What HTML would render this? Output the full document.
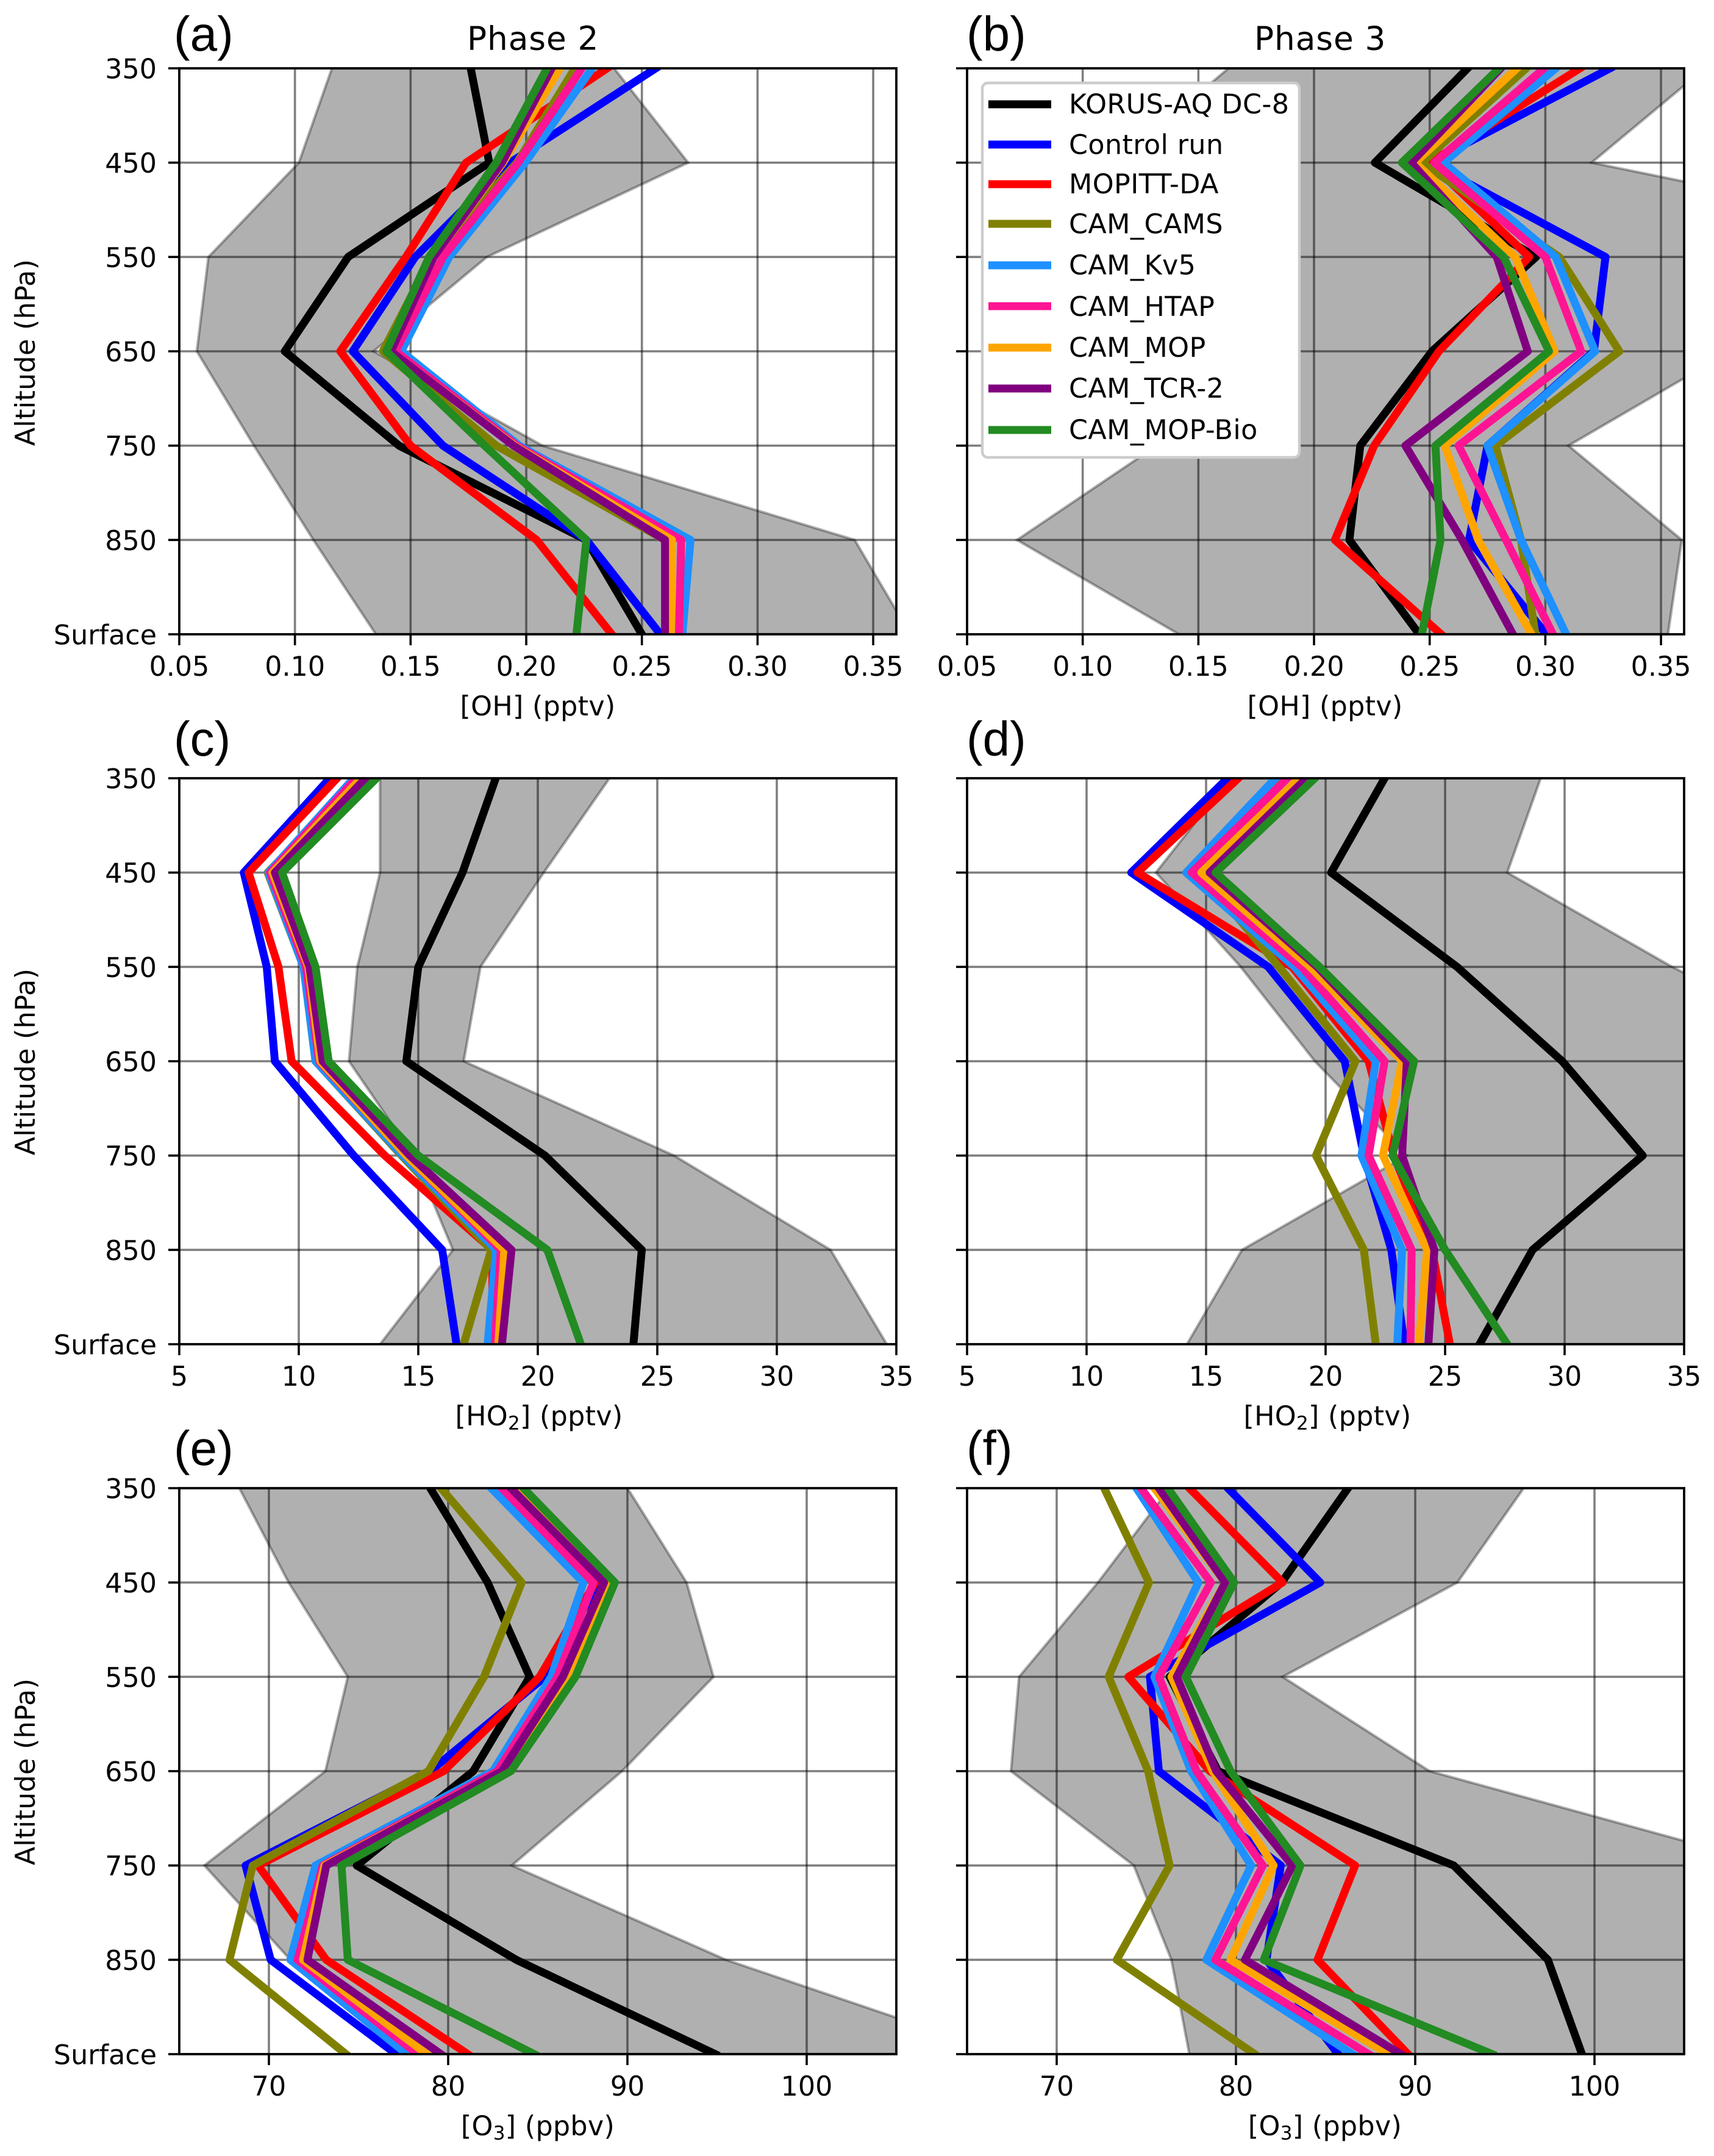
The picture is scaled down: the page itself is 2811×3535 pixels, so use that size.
<!DOCTYPE html>
<html lang="en">
<head>
<meta charset="utf-8">
<title>Vertical profiles of OH, HO2 and O3</title>
<style>
html,body{margin:0;padding:0;background:#fff;}
svg{display:block;}
text{font-family:"DejaVu Sans",sans-serif;fill:#000;}
.tick{font-size:44.4px;}
.lab{font-size:44.4px;letter-spacing:.3px;}
.ttl{font-size:53.3px;letter-spacing:.9px;}
.pan{font-family:"Liberation Sans",sans-serif;font-size:80px;}
.leg{font-size:44.4px;letter-spacing:.4px;}
</style>
</head>
<body>
<svg id="fig" xmlns="http://www.w3.org/2000/svg" width="2811" height="3535" viewBox="0 0 2811 3535">
  <rect x="0" y="0" width="2811" height="3535" fill="#ffffff"/>
  <g id="panels"></g>

  <text class="pan" x="285" y="83">(a)</text>
  <text class="pan" x="1585" y="83">(b)</text>
  <text class="pan" x="285" y="1239">(c)</text>
  <text class="pan" x="1585" y="1239">(d)</text>
  <text class="pan" x="285" y="2402">(e)</text>
  <text class="pan" x="1585" y="2402">(f)</text>

  <text class="ttl" x="766" y="81.5">Phase 2</text>
  <text class="ttl" x="2057" y="81.5">Phase 3</text>

  <text class="lab" transform="translate(57,578) rotate(-90)" text-anchor="middle">Altitude (hPa)</text>
  <text class="lab" transform="translate(57,1741) rotate(-90)" text-anchor="middle">Altitude (hPa)</text>
  <text class="lab" transform="translate(57,2905) rotate(-90)" text-anchor="middle">Altitude (hPa)</text>

  <text class="lab" x="882" y="1173" text-anchor="middle">[OH] (pptv)</text>
  <text class="lab" x="2173" y="1173" text-anchor="middle">[OH] (pptv)</text>
  <text class="lab" x="884" y="2337" text-anchor="middle">[HO<tspan dy="7" font-size="31">2</tspan><tspan dy="-7">] (pptv)</tspan></text>
  <text class="lab" x="2177" y="2337" text-anchor="middle">[HO<tspan dy="7" font-size="31">2</tspan><tspan dy="-7">] (pptv)</tspan></text>
  <text class="lab" x="882" y="3501" text-anchor="middle">[O<tspan dy="7" font-size="31">3</tspan><tspan dy="-7">] (ppbv)</tspan></text>
  <text class="lab" x="2173" y="3501" text-anchor="middle">[O<tspan dy="7" font-size="31">3</tspan><tspan dy="-7">] (ppbv)</tspan></text>

  <g id="legend">
    <rect x="1611" y="136" width="520" height="614" rx="9" ry="9" fill="#ffffff" stroke="#cccccc" stroke-width="4.4"/>
    <g><line x1="1621" x2="1724" y1="171" y2="171" stroke="#000000" stroke-width="13"/><text class="leg" x="1753" y="186">KORUS-AQ DC-8</text></g>
    <g><line x1="1621" x2="1724" y1="237" y2="237" stroke="#0000ff" stroke-width="13"/><text class="leg" x="1753" y="252.5">Control run</text></g>
    <g><line x1="1621" x2="1724" y1="302" y2="302" stroke="#ff0000" stroke-width="13"/><text class="leg" x="1753" y="317">MOPITT-DA</text></g>
    <g><line x1="1621" x2="1724" y1="367" y2="367" stroke="#808000" stroke-width="13"/><text class="leg" x="1753" y="382.5">CAM_CAMS</text></g>
    <g><line x1="1621" x2="1724" y1="435" y2="435" stroke="#1e90ff" stroke-width="13"/><text class="leg" x="1753" y="450">CAM_Kv5</text></g>
    <g><line x1="1621" x2="1724" y1="502" y2="502" stroke="#ff1493" stroke-width="13"/><text class="leg" x="1753" y="518">CAM_HTAP</text></g>
    <g><line x1="1621" x2="1724" y1="570" y2="570" stroke="#ffa500" stroke-width="13"/><text class="leg" x="1753" y="585">CAM_MOP</text></g>
    <g><line x1="1621" x2="1724" y1="637" y2="637" stroke="#800080" stroke-width="13"/><text class="leg" x="1753" y="652">CAM_TCR-2</text></g>
    <g><line x1="1621" x2="1724" y1="705" y2="705" stroke="#228b22" stroke-width="13"/><text class="leg" x="1753" y="720">CAM_MOP-Bio</text></g>
  </g>
</svg>

<script>
// Altitude categories, top of axis to bottom of axis
const levels = ['350', '450', '550', '650', '750', '850', 'Surface'];

// Series identity, in drawing order
const seriesKeys = ['korus', 'control', 'mopitt', 'cams', 'kv5', 'htap', 'mop', 'tcr2', 'mopbio'];
const seriesColors = ['#000000', '#0000ff', '#ff0000', '#808000', '#1e90ff', '#ff1493', '#ffa500', '#800080', '#228b22'];

// Tick values and labels
const ohTicks = [0.05, 0.10, 0.15, 0.20, 0.25, 0.30, 0.35];
const ohTickLabels = ['0.05', '0.10', '0.15', '0.20', '0.25', '0.30', '0.35'];
const ho2Ticks = [5, 10, 15, 20, 25, 30, 35];
const ho2TickLabels = ['5', '10', '15', '20', '25', '30', '35'];
const o3Ticks = [70, 80, 90, 100];
const o3TickLabels = ['70', '80', '90', '100'];

// Axis limits
const ohLimits = [0.05, 0.36];
const ho2Limits = [5, 35];
const o3Limits = [65, 105];

// Panel (a) OH, Phase 2
const aShadeLow = [0.116, 0.1017, 0.0626, 0.0576, 0.0823, 0.108, 0.135];
const aShadeHigh = [0.238, 0.270, 0.183, 0.134, 0.207, 0.342, 0.366];
const aKorus = [0.176, 0.184, 0.123, 0.0956, 0.145, 0.226, 0.250];
const aControl = [0.256, 0.193, 0.152, 0.125, 0.164, 0.226, 0.258];
const aMopitt = [0.235, 0.174, 0.148, 0.1196, 0.150, 0.2045, 0.237];
const aCams = [0.221, 0.196, 0.159, 0.138, 0.187, 0.260, 0.2625];
const aKv5 = [0.2285, 0.1995, 0.1667, 0.146, 0.197, 0.271, 0.2675];
const aHtap = [0.224, 0.1965, 0.164, 0.1435, 0.196, 0.267, 0.266];
const aMop = [0.2146, 0.190, 0.160, 0.1415, 0.195, 0.263, 0.2625];
const aTcr2 = [0.211, 0.1895, 0.160, 0.1415, 0.1945, 0.260, 0.260];
const aMopBio = [0.209, 0.187, 0.158, 0.1395, 0.182, 0.226, 0.2217];

// Panel (b) OH, Phase 3
const bShadeLow = [0.163, 0.115, 0.100, 0.120, 0.132, 0.0716, 0.1416];
const bShadeHigh = [0.369, 0.320, 0.520, 0.380, 0.310, 0.359, 0.353];
const bKorus = [0.2664, 0.2263, 0.296, 0.251, 0.220, 0.2153, 0.2455];
const bControl = [0.328, 0.250, 0.326, 0.321, 0.275, 0.267, 0.3005];
const bMopitt = [0.315, 0.250, 0.293, 0.254, 0.226, 0.209, 0.255];
const bCams = [0.2917, 0.2466, 0.306, 0.332, 0.2785, 0.2895, 0.2957];
const bKv5 = [0.3045, 0.256, 0.3045, 0.3215, 0.275, 0.2895, 0.309];
const bHtap = [0.2995, 0.252, 0.300, 0.3155, 0.2625, 0.283, 0.3033];
const bMop = [0.2877, 0.2437, 0.287, 0.304, 0.2565, 0.271, 0.294];
const bTcr2 = [0.2807, 0.242, 0.279, 0.2924, 0.2395, 0.264, 0.286];
const bMopBio = [0.280, 0.238, 0.282, 0.3016, 0.2525, 0.2547, 0.2466];

// Panel (c) HO2, Phase 2
const cShadeLow = [13.4, 13.4, 12.45, 12.1, 14.8, 16.45, 13.4];
const cShadeHigh = [23.0, 20.25, 17.6, 16.9, 25.7, 32.25, 34.6];
const cKorus = [18.24, 16.85, 15.0, 14.5, 20.3, 24.35, 24.0];
const cControl = [11.3, 7.7, 8.66, 9.0, 12.3, 16.0, 16.6];
const cMopitt = [11.6, 7.9, 9.15, 9.7, 13.6, 18.1, 18.1];
const cCams = [12.5, 8.7, 10.2, 10.7, 14.3, 18.05, 16.9];
const cKv5 = [12.3, 8.73, 10.2, 10.7, 14.35, 18.25, 17.9];
const cHtap = [12.4, 8.8, 10.3, 10.85, 14.5, 18.45, 18.2];
const cMop = [12.6, 8.9, 10.4, 10.9, 14.5, 18.6, 18.35];
const cTcr2 = [12.8, 9.0, 10.45, 11.0, 14.65, 18.9, 18.5];
const cMopBio = [13.25, 9.3, 10.7, 11.25, 15.0, 20.4, 21.8];

// Panel (d) HO2, Phase 3
const dShadeLow = [16.0, 12.9, 16.45, 19.55, 23.4, 16.5, 14.2];
const dShadeHigh = [29.0, 27.6, 34.5, 42.5, 42.5, 42.5, 42.5];
const dKorus = [22.47, 20.23, 25.5, 29.9, 33.27, 28.66, 26.44];
const dControl = [15.9, 11.87, 17.6, 20.8, 21.6, 22.75, 23.3];
const dMopitt = [16.35, 12.13, 18.6, 21.8, 22.85, 24.45, 25.2];
const dCams = [18.3, 14.75, 18.05, 21.25, 19.6, 21.6, 22.1];
const dKv5 = [17.9, 14.17, 18.7, 22.1, 21.5, 23.2, 23.0];
const dHtap = [18.4, 14.4, 19.0, 22.47, 21.8, 23.6, 23.55];
const dMop = [18.9, 14.8, 19.35, 23.2, 22.4, 24.25, 23.9];
const dTcr2 = [19.2, 15.15, 19.65, 23.4, 23.2, 24.55, 24.3];
const dMopBio = [19.55, 15.4, 19.75, 23.7, 22.8, 25.0, 27.6];

// Panel (e) O3, Phase 2
const eShadeLow = [68.35, 71.1, 74.4, 73.15, 66.4, 71.2, 78.3];
const eShadeHigh = [90.0, 93.3, 94.8, 89.7, 83.55, 95.5, 111.0];
const eKorus = [79.0, 82.2, 84.55, 81.4, 74.9, 83.8, 94.9];
const eControl = [83.3, 88.4, 85.4, 79.0, 68.7, 70.1, 77.1];
const eMopitt = [83.0, 88.2, 85.1, 79.75, 69.4, 73.2, 81.1];
const eCams = [79.6, 84.1, 82.0, 78.9, 69.1, 67.8, 74.3];
const eKv5 = [82.4, 87.55, 85.75, 82.5, 72.6, 71.2, 77.7];
const eHtap = [83.0, 88.1, 86.1, 82.75, 73.0, 71.6, 78.3];
const eMop = [83.65, 88.95, 86.6, 83.0, 73.1, 71.9, 78.8];
const eTcr2 = [83.5, 88.7, 86.4, 83.0, 73.2, 72.15, 79.6];
const eMopBio = [84.2, 89.3, 87.1, 83.5, 74.05, 74.4, 84.8];

// Panel (f) O3, Phase 3
const fShadeLow = [76.3, 72.3, 67.9, 67.45, 74.3, 76.4, 77.4];
const fShadeHigh = [96.05, 92.35, 82.6, 90.8, 110.0, 112.0, 112.0];
const fKorus = [86.25, 82.55, 76.3, 79.0, 92.15, 97.4, 99.3];
const fControl = [79.55, 84.7, 75.2, 75.7, 82.5, 81.7, 85.7];
const fMopitt = [77.4, 82.6, 74.0, 78.55, 86.65, 84.55, 89.6];
const fCams = [72.65, 75.15, 72.9, 75.1, 76.3, 73.35, 81.05];
const fKv5 = [74.45, 77.9, 75.45, 77.5, 80.85, 78.35, 86.5];
const fHtap = [74.7, 78.6, 75.7, 77.8, 81.5, 78.85, 87.4];
const fMop = [75.45, 79.4, 76.4, 78.7, 82.1, 79.7, 88.5];
const fTcr2 = [75.7, 79.4, 76.7, 78.9, 83.15, 80.5, 89.2];
const fMopBio = [76.2, 79.9, 77.2, 79.7, 83.6, 81.55, 94.3];

const SVG_NS = 'http://www.w3.org/2000/svg';
const AXES_W = 1176;
const AXES_H = 928;

const panelDefs = [
  { id: 'a', left: 294, top: 112, limits: ohLimits, ticks: ohTicks, tickLabels: ohTickLabels, yLabels: true, low: aShadeLow, high: aShadeHigh,
    lines: [aKorus, aControl, aMopitt, aCams, aKv5, aHtap, aMop, aTcr2, aMopBio] },
  { id: 'b', left: 1586, top: 112, limits: ohLimits, ticks: ohTicks, tickLabels: ohTickLabels, yLabels: false, low: bShadeLow, high: bShadeHigh,
    lines: [bKorus, bControl, bMopitt, bCams, bKv5, bHtap, bMop, bTcr2, bMopBio] },
  { id: 'c', left: 294, top: 1276, limits: ho2Limits, ticks: ho2Ticks, tickLabels: ho2TickLabels, yLabels: true, low: cShadeLow, high: cShadeHigh,
    lines: [cKorus, cControl, cMopitt, cCams, cKv5, cHtap, cMop, cTcr2, cMopBio] },
  { id: 'd', left: 1586, top: 1276, limits: ho2Limits, ticks: ho2Ticks, tickLabels: ho2TickLabels, yLabels: false, low: dShadeLow, high: dShadeHigh,
    lines: [dKorus, dControl, dMopitt, dCams, dKv5, dHtap, dMop, dTcr2, dMopBio] },
  { id: 'e', left: 294, top: 2440, limits: o3Limits, ticks: o3Ticks, tickLabels: o3TickLabels, yLabels: true, low: eShadeLow, high: eShadeHigh,
    lines: [eKorus, eControl, eMopitt, eCams, eKv5, eHtap, eMop, eTcr2, eMopBio] },
  { id: 'f', left: 1586, top: 2440, limits: o3Limits, ticks: o3Ticks, tickLabels: o3TickLabels, yLabels: false, low: fShadeLow, high: fShadeHigh,
    lines: [fKorus, fControl, fMopitt, fCams, fKv5, fHtap, fMop, fTcr2, fMopBio] }
];

function make(tag, attrs, parent) {
  const node = document.createElementNS(SVG_NS, tag);
  for (const key in attrs) node.setAttribute(key, attrs[key]);
  parent.appendChild(node);
  return node;
}

function xAxis(panel, value) {
  const lo = panel.limits[0];
  const hi = panel.limits[1];
  return panel.left + (value - lo) / (hi - lo) * AXES_W;
}

function yAxis(panel, levelIndex) {
  return panel.top + levelIndex / (levels.length - 1) * AXES_H;
}

function profilePoints(panel, values) {
  return values.map(function (v, i) {
    return xAxis(panel, v).toFixed(2) + ',' + yAxis(panel, i).toFixed(2);
  });
}

function drawPanel(panel) {
  const root = document.getElementById('panels');
  const right = panel.left + AXES_W;
  const bottom = panel.top + AXES_H;

  const group = make('g', {}, root);
  
  

  const clip = make('clipPath', { id: 'clip-' + panel.id }, group);
  make('rect', { x: panel.left, y: panel.top, width: AXES_W, height: AXES_H }, clip);

  const plot = make('g', { 'clip-path': 'url(#clip-' + panel.id + ')' }, group);
  
  

  // Shaded observed range
  const shadePts = profilePoints(panel, panel.low).concat(profilePoints(panel, panel.high).reverse());
  const shadeFill = make('polygon', { points: shadePts.join(' '), fill: '#000000', 'fill-opacity': 0.31 }, plot);
  
  
  const shadeEdge = make('polygon', { points: shadePts.join(' '), fill: 'none', stroke: '#000000', 'stroke-opacity': 0.31, 'stroke-width': 4.4, 'stroke-linejoin': 'miter' }, plot);
  
  

  // Grid
  panel.ticks.forEach(function (t, i) {
    const x = xAxis(panel, t);
    const g = make('line', { x1: x, x2: x, y1: panel.top, y2: bottom, stroke: '#000000', 'stroke-opacity': 0.5, 'stroke-width': 3.6 }, plot);
    
    
  });
  levels.forEach(function (lab, i) {
    const y = yAxis(panel, i);
    const g = make('line', { x1: panel.left, x2: right, y1: y, y2: y, stroke: '#000000', 'stroke-opacity': 0.5, 'stroke-width': 3.6 }, plot);
    
    
  });

  // Series
  panel.lines.forEach(function (values, s) {
    const line = make('polyline', {
      points: profilePoints(panel, values).join(' '),
      fill: 'none',
      stroke: seriesColors[s],
      'stroke-width': 13,
      'stroke-linejoin': 'round',
      'stroke-linecap': 'square'
    }, plot);
    
    
  });

  // Spines
  const spine = make('rect', { x: panel.left, y: panel.top, width: AXES_W, height: AXES_H, fill: 'none', stroke: '#000000', 'stroke-width': 3.8 }, group);
  
  

  // X ticks
  panel.ticks.forEach(function (t, i) {
    const x = xAxis(panel, t);
    const mark = make('line', { x1: x, x2: x, y1: bottom, y2: bottom + 18, stroke: '#000000', 'stroke-width': 3.6 }, group);
    
    
    const label = make('text', { x: x, y: bottom + 68, 'text-anchor': 'middle', class: 'tick' }, group);
    label.textContent = panel.tickLabels[i];
    
    
  });

  // Y ticks
  levels.forEach(function (lab, i) {
    const y = yAxis(panel, i);
    const mark = make('line', { x1: panel.left - 18, x2: panel.left, y1: y, y2: y, stroke: '#000000', 'stroke-width': 3.6 }, group);
    
    
    if (panel.yLabels) {
      const label = make('text', { x: panel.left - 37, y: y + 16.5, 'text-anchor': 'end', class: 'tick' }, group);
      label.textContent = lab;
      
      
    }
  });
}

panelDefs.forEach(drawPanel);
</script>
</body>
</html>
